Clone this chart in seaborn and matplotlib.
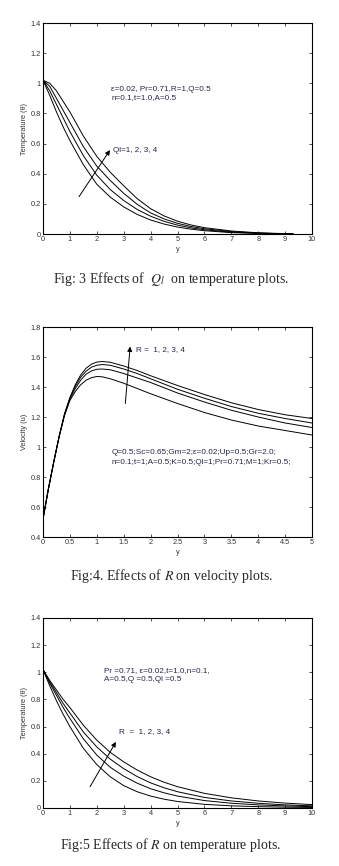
import matplotlib
matplotlib.use("Agg")
import matplotlib.pyplot as plt
import seaborn as sns
import numpy as np

# ---------------- data ----------------
# Fig 3: temperature vs y for Ql = 1, 2, 3, 4
y_fig3 = [0, 0.25, 0.5, 0.75, 1, 1.5, 2, 2.5, 3, 3.5, 4, 4.5, 5, 5.5, 6, 7, 8, 9.3]
theta_ql1 = [1.02, 0.92, 0.81, 0.71, 0.62, 0.46, 0.33, 0.245, 0.18, 0.13, 0.093, 0.066, 0.046, 0.032, 0.022, 0.009, 0.004, 0.0]
theta_ql2 = [1.02, 0.95, 0.86, 0.77, 0.68, 0.52, 0.39, 0.295, 0.222, 0.163, 0.118, 0.084, 0.059, 0.041, 0.028, 0.012, 0.005, 0.0]
theta_ql3 = [1.02, 0.98, 0.90, 0.82, 0.74, 0.58, 0.45, 0.355, 0.27, 0.197, 0.14, 0.10, 0.071, 0.050, 0.035, 0.016, 0.006, 0.0]
theta_ql4 = [1.02, 1.00, 0.95, 0.88, 0.81, 0.65, 0.515, 0.41, 0.32, 0.235, 0.168, 0.12, 0.085, 0.060, 0.042, 0.020, 0.008, 0.001]

# Fig 4: velocity vs y for R = 1, 2, 3, 4
y_fig4 = [0, 0.1, 0.2, 0.3, 0.4, 0.5, 0.6, 0.7, 0.8, 0.9, 1.0, 1.1, 1.25, 1.5, 1.75, 2, 2.5, 3, 3.5, 4, 4.5, 5]
u_r1 = [0.52, 0.72, 0.90, 1.07, 1.21, 1.31, 1.37, 1.415, 1.445, 1.462, 1.47, 1.468, 1.455, 1.425, 1.39, 1.355, 1.29, 1.23, 1.18, 1.14, 1.11, 1.08]
u_r2 = [0.52, 0.72, 0.90, 1.07, 1.215, 1.32, 1.39, 1.445, 1.485, 1.507, 1.518, 1.52, 1.515, 1.49, 1.46, 1.43, 1.36, 1.30, 1.245, 1.20, 1.16, 1.13]
u_r3 = [0.52, 0.72, 0.90, 1.07, 1.22, 1.325, 1.405, 1.465, 1.505, 1.532, 1.545, 1.55, 1.545, 1.52, 1.49, 1.455, 1.385, 1.325, 1.27, 1.225, 1.19, 1.16]
u_r4 = [0.52, 0.72, 0.90, 1.07, 1.22, 1.33, 1.415, 1.48, 1.525, 1.552, 1.566, 1.57, 1.565, 1.54, 1.51, 1.475, 1.41, 1.35, 1.295, 1.25, 1.215, 1.19]

# Fig 5: temperature vs y for R = 1, 2, 3, 4
y_fig5 = [0, 0.25, 0.5, 0.75, 1, 1.5, 2, 2.5, 3, 3.5, 4, 4.5, 5, 6, 7, 8, 9, 10]
theta_r1 = [1.02, 0.90, 0.79, 0.69, 0.60, 0.44, 0.32, 0.23, 0.165, 0.12, 0.088, 0.065, 0.048, 0.027, 0.016, 0.010, 0.006, 0.004]
theta_r2 = [1.02, 0.92, 0.83, 0.74, 0.66, 0.51, 0.39, 0.30, 0.235, 0.183, 0.142, 0.112, 0.088, 0.055, 0.035, 0.023, 0.015, 0.010]
theta_r3 = [1.02, 0.93, 0.85, 0.77, 0.70, 0.56, 0.45, 0.36, 0.29, 0.232, 0.185, 0.149, 0.120, 0.078, 0.052, 0.035, 0.023, 0.016]
theta_r4 = [1.02, 0.94, 0.87, 0.80, 0.74, 0.61, 0.50, 0.41, 0.34, 0.28, 0.23, 0.19, 0.157, 0.108, 0.075, 0.052, 0.036, 0.025]

xticks_fig3 = [0, 1, 2, 3, 4, 5, 6, 7, 8, 9, 10]
yticks_temp = [0, 0.2, 0.4, 0.6, 0.8, 1.0, 1.2, 1.4]
ytick_temp_labels = ["0", "0.2", "0.4", "0.6", "0.8", "1", "1.2", "1.4"]
xticks_fig4 = [0, 0.5, 1, 1.5, 2, 2.5, 3, 3.5, 4, 4.5, 5]
xtick_fig4_labels = ["0", "0.5", "1", "1.5", "2", "2.5", "3", "3.5", "4", "4.5", "5"]
yticks_vel = [0.4, 0.6, 0.8, 1.0, 1.2, 1.4, 1.6, 1.8]
ytick_vel_labels = ["0.4", "0.6", "0.8", "1", "1.2", "1.4", "1.6", "1.8"]

# ---------------- style ----------------
sns.set_style("ticks")
plt.rcParams['font.family'] = ['Liberation Sans', 'DejaVu Sans']
plt.rcParams['mathtext.fontset'] = 'stix'

W, H = 339, 866
fig = plt.figure(figsize=(W / 100, H / 100), dpi=100)
fig.patch.set_facecolor('white')

TXT = '#26264a'
TICK_FS = 5.3
ANN_FS = 5.9
CAP_FS = 10


def make_axes(top_px, bottom_px, left_px=43, right_px=312):
    return fig.add_axes([left_px / W, 1 - bottom_px / H,
                         (right_px - left_px) / W, (bottom_px - top_px) / H])


def style_axes(ax, xlim, ylim, xticks, xlabels, yticks, ylabels, ylabel):
    ax.set_xlim(*xlim)
    ax.set_ylim(*ylim)
    ax.set_xticks(xticks)
    ax.set_xticklabels(xlabels)
    ax.set_yticks(yticks)
    ax.set_yticklabels(ylabels)
    ax.tick_params(direction='in', length=2.5, width=0.6, labelsize=TICK_FS,
                   top=True, right=True, pad=1.5, colors='#333333')
    for s in ax.spines.values():
        s.set_linewidth(0.8)
        s.set_color('black')
        s.set_visible(True)
    ax.set_xlabel('y', fontsize=TICK_FS, labelpad=2, color='#333333')
    ax.set_ylabel(ylabel, fontsize=TICK_FS, labelpad=2, color='#333333')


def arrow(ax, tail, head):
    ax.annotate('', xy=head, xytext=tail,
                arrowprops=dict(arrowstyle='-|>', color='black', lw=0.7,
                                mutation_scale=7, shrinkA=0, shrinkB=0))


# ---------------- Fig 3 ----------------
ax1 = make_axes(23, 234)
for vals in [theta_ql1, theta_ql2, theta_ql3, theta_ql4]:
    sns.lineplot(x=y_fig3, y=vals, ax=ax1, color='black', lw=0.7)
style_axes(ax1, (0, 10), (0, 1.4), xticks_fig3, [str(v) for v in xticks_fig3],
           yticks_temp, ytick_temp_labels, 'Temperature (θ)')
ax1.text(2.53, 0.962, 'ε=0.02, Pr=0.71,R=1,Q=0.5', fontsize=ANN_FS, color=TXT, va='center')
ax1.text(2.53, 0.905, 'n=0.1,t=1.0,A=0.5', fontsize=ANN_FS, color=TXT, va='center')
ax1.text(2.62, 0.555, 'Ql=1, 2, 3, 4', fontsize=ANN_FS, color=TXT, va='center')
arrow(ax1, (1.34, 0.248), (2.49, 0.557))
fig.text(171 / W, 1 - 279 / H, 'Fig: 3 Effects of  $Q_l$  on temperature plots.',
         ha='center', va='center', fontsize=CAP_FS, family='Liberation Serif')

# ---------------- Fig 4 ----------------
ax2 = make_axes(327, 537)
for vals in [u_r1, u_r2, u_r3, u_r4]:
    sns.lineplot(x=y_fig4, y=vals, ax=ax2, color='black', lw=0.7)
style_axes(ax2, (0, 5), (0.4, 1.8), xticks_fig4, xtick_fig4_labels,
           yticks_vel, ytick_vel_labels, 'Velocity (u)')
ax2.text(1.73, 1.647, 'R =  1, 2, 3, 4', fontsize=ANN_FS, color=TXT, va='center')
arrow(ax2, (1.53, 1.29), (1.62, 1.67))
ax2.text(1.28, 0.965, 'Q=0.5;Sc=0.65;Gm=2;ε=0.02;Up=0.5;Gr=2.0;', fontsize=ANN_FS, color=TXT, va='center')
ax2.text(1.28, 0.898, 'n=0.1;t=1;A=0.5;K=0.5;Ql=1;Pr=0.71;M=1;Kr=0.5;', fontsize=ANN_FS, color=TXT, va='center')
fig.text(171 / W, 1 - 576 / H, 'Fig:4. Effects of $R$ on velocity plots.',
         ha='center', va='center', fontsize=CAP_FS, family='Liberation Serif')

# ---------------- Fig 5 ----------------
ax3 = make_axes(618, 808)
for vals in [theta_r1, theta_r2, theta_r3, theta_r4]:
    sns.lineplot(x=y_fig5, y=vals, ax=ax3, color='black', lw=0.7)
style_axes(ax3, (0, 10), (0, 1.4), xticks_fig3, [str(v) for v in xticks_fig3],
           yticks_temp, ytick_temp_labels, 'Temperature (θ)')
ax3.text(2.28, 1.012, 'Pr =0.71, ε=0.02,t=1.0,n=0.1,', fontsize=ANN_FS, color=TXT, va='center')
ax3.text(2.28, 0.946, 'A=0.5,Q =0.5,Ql =0.5', fontsize=ANN_FS, color=TXT, va='center')
ax3.text(2.83, 0.56, 'R  =  1, 2, 3, 4', fontsize=ANN_FS, color=TXT, va='center')
arrow(ax3, (1.75, 0.157), (2.71, 0.487))
fig.text(171 / W, 1 - 845 / H, 'Fig:5 Effects of $R$ on temperature plots.',
         ha='center', va='center', fontsize=CAP_FS, family='Liberation Serif')

fig.savefig('out.png', dpi=100, facecolor='white')
